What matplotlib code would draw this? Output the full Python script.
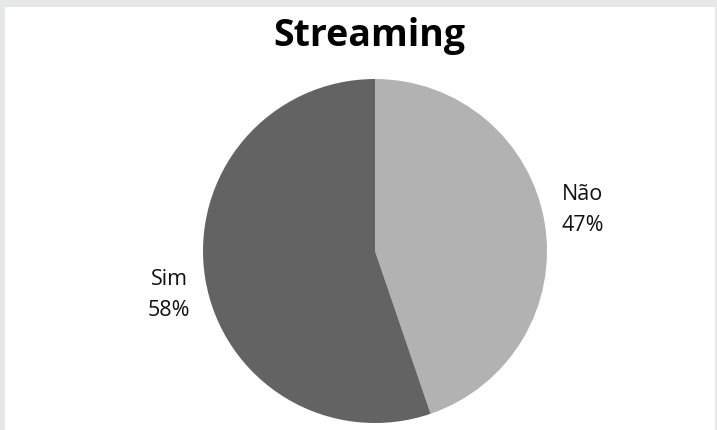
import matplotlib
matplotlib.use("Agg")
import matplotlib.pyplot as plt
from matplotlib.patches import Rectangle

plt.rcParams['font.family'] = ['Open Sans', 'DejaVu Sans']

# Survey answers
categories = ["Não", "Sim"]
percentages = [47, 58]
colors = ["#b2b2b2", "#636363"]
title = "Streaming"

W, H = 717, 431
fig = plt.figure(figsize=(W / 100, H / 100), dpi=100, facecolor="#e6e7e9")
ax = fig.add_axes([0, 0, 1, 1])
ax.set_axis_off()

# white panel inside the grey frame
ax.add_patch(Rectangle((5, 0), 710, H - 8, facecolor="white", edgecolor="none", zorder=0))

cx, cy, r = 375, H - 252, 172
wedges, _ = ax.pie(percentages, colors=colors, startangle=90, counterclock=False,
                   center=(cx, cy), radius=r, wedgeprops=dict(linewidth=0))
for w in wedges:
    w.set_zorder(2)

# category labels outside the slices
label_pos = [(583, H - 210), (169, H - 295)]
for name, val, (lx, ly) in zip(categories, percentages, label_pos):
    ax.text(lx, ly, f"{name}\n{val}%", ha="center", va="center", fontsize=15.5,
            linespacing=1.58, color="#111111", zorder=3)

ax.text(cx - 6, H - 45.7, title, ha="center", va="baseline", fontsize=27,
        fontweight="bold", color="#000000", zorder=3)

ax.set_xlim(0, W)
ax.set_ylim(0, H)
ax.set_aspect("auto")
fig.savefig("out.png", dpi=100, facecolor=fig.get_facecolor())
